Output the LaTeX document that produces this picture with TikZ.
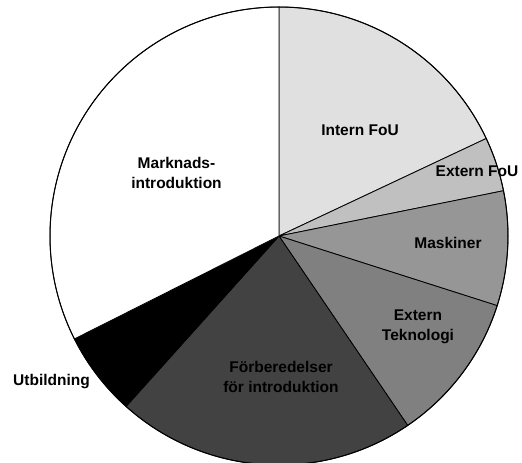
\documentclass[tikz,border=0pt]{standalone}
\usepackage{fontspec}
\setmainfont{Liberation Sans}
\definecolor{cInt}{HTML}{E0E0E0}
\definecolor{cExt}{HTML}{C0C0C0}
\definecolor{cMas}{HTML}{969696}
\definecolor{cTek}{HTML}{808080}
\definecolor{cFor}{HTML}{424242}
\definecolor{cUtb}{HTML}{000000}
\definecolor{cMar}{HTML}{FFFFFF}
\tikzset{
  slice/.style={draw=black, line width=0.8pt, line join=round},
  lbl/.style={font=\bfseries\fontsize{15.5}{20}\selectfont, align=center, inner sep=0pt}
}
\newcommand{\pieslice}[3]{%
  \filldraw[slice, fill=#3] (0,0) -- (#1:229) arc[start angle=#1, end angle=#2, radius=229] -- cycle;}
\begin{document}
\begin{tikzpicture}[x=1pt,y=1pt]
\useasboundingbox (-279,-227) rectangle (243,236);
\pieslice{90}{25.2}{cInt}
\pieslice{25.2}{11.4}{cExt}
\pieslice{11.4}{-17.7}{cMas}
\pieslice{-17.7}{-55.8}{cTek}
\pieslice{-55.8}{-131.9}{cFor}
\pieslice{-131.9}{-153.3}{cUtb}
\pieslice{-153.3}{-270}{cMar}
\draw[line width=1pt] (0,0) circle[radius=229];
\node[lbl] (intern) at (81,106) {Intern FoU};
\node[lbl] (extern) at (198,65) {Extern FoU};
\node[lbl] (mask) at (169,-7) {Maskiner};
\node[lbl] (tek) at (139,-91) {Extern\\Teknologi};
\node[lbl] (forb) at (2,-141) {Förberedelser\\för introduktion};
\node[lbl] (mark) at (-102.5,63) {Marknads-\\introduktion};
\node[lbl] (utb) at (-227.5,-146) {Utbildning};
\end{tikzpicture}
\end{document}
